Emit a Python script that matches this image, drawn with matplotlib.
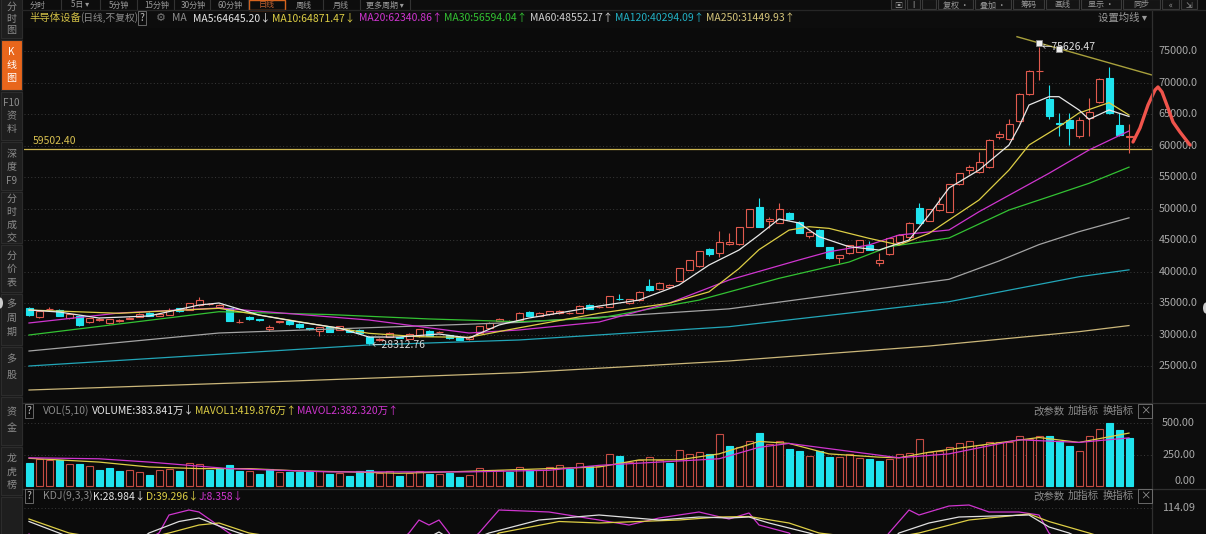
import numpy as np
import matplotlib.pyplot as plt
from matplotlib.patches import Rectangle, Ellipse
from matplotlib.lines import Line2D

plt.rcParams['font.family'] = ['Noto Sans CJK SC', 'DejaVu Sans']

# ---------------- data ----------------
opens = [34240, 32860, 34000, 33920, 32600, 32970, 31970, 32300, 31810, 32150,
         32550, 32860, 33450, 32970, 33130, 34200, 33920, 34700, 34870, 34400,
         34190, 32000, 32860, 32440, 30900, 31950, 32100, 31700, 31000, 30630,
         31160, 30790, 30800, 30800, 29680, 29100, 29680, 29600, 29360, 29790,
         30600, 30400, 29890, 29680, 29260, 30320, 31020, 32220, 32150, 32330,
         33650, 32970, 33260, 33400, 33400, 33490, 34700, 34400, 34440, 35700,
         34990, 35500, 37720, 37200, 37500, 38570, 40270, 40900, 43550, 42920,
         44450, 44400, 47140, 50320, 48000, 47780, 49370, 47940, 45670, 46620,
         43870, 42130, 42920, 43170, 44230, 41330, 42810, 44760, 45560, 50060,
         48100, 49790, 49520, 53920, 56140, 55870, 56570, 61430, 61020, 63970,
         68210, 71800, 67370, 63600, 64080, 61540, 64350, 66980, 70700, 63290,
         61330]
highs = [34450, 33950, 34350, 34050, 33400, 33050, 32700, 32600, 32550, 32500,
         32750, 33400, 33550, 33400, 34200, 34300, 35100, 36030, 35000, 34800,
         34300, 32500, 33000, 32500, 31600, 32200, 32200, 31800, 31100, 31200,
         31250, 31400, 30900, 30900, 29750, 29400, 30400, 29700, 30300, 30950,
         30700, 30600, 30000, 29750, 29750, 31450, 32000, 32650, 32300, 33600,
         33750, 33550, 33800, 33850, 33550, 34700, 34800, 34600, 36200, 36460,
         35700, 36900, 38790, 38300, 38000, 40600, 41900, 43300, 43700, 46510,
         46090, 47100, 49950, 51650, 48700, 50950, 49500, 48100, 46500, 46700,
         43950, 42700, 44300, 45100, 44800, 42920, 45400, 46000, 47900, 50900,
         50000, 51860, 54000, 55700, 57000, 59050, 61100, 62400, 64190, 68300,
         72000, 75626.47, 69630, 65170, 65170, 64500, 67520, 70700, 72540, 65170,
         63500]
lows = [33000, 32700, 33850, 32900, 32450, 31400, 31800, 32200, 31700, 32050,
        32500, 32800, 32900, 32900, 33050, 33650, 33850, 34600, 34750, 34300,
        32100, 31900, 32350, 32200, 30600, 31850, 31550, 31100, 30800, 29800,
        30400, 30700, 30400, 30250, 28312.76, 29000, 29600, 29400, 29300, 29700,
        29750, 30350, 29350, 29100, 29200, 30250, 30950, 32150, 32050, 32250,
        32900, 32900, 33200, 33350, 33350, 33400, 34000, 34300, 34400, 35500,
        34900, 35400, 37000, 37100, 37400, 38500, 40200, 40700, 42500, 42300,
        44300, 44300, 47100, 47100, 47000, 47700, 48200, 46100, 45300, 44000,
        42050, 41330, 42850, 43100, 43400, 40900, 42700, 44600, 45400, 47600,
        48000, 49700, 49400, 53800, 55500, 55700, 56400, 61000, 60900, 63800,
        68000, 70430, 64300, 61540, 60110, 61200, 61540, 66800, 65100, 61500,
        58800]
closes = [33130, 33810, 34080, 33020, 33300, 31540, 32600, 32450, 32440, 32400,
          32650, 33300, 32970, 33300, 33920, 33700, 35000, 35500, 34900, 34700,
          32220, 32060, 32440, 32280, 31270, 32100, 31620, 31160, 30900, 31160,
          30470, 31320, 30470, 30310, 28630, 29250, 30320, 29520, 30160, 30860,
          29840, 30470, 29430, 29160, 29680, 31380, 31900, 32540, 32200, 33490,
          32970, 33490, 33700, 33750, 33450, 34600, 34080, 34450, 36140, 35600,
          35620, 36820, 37090, 38250, 37900, 40540, 41860, 43280, 42810, 44760,
          44700, 47050, 49900, 47140, 48330, 49900, 48320, 46190, 46350, 44080,
          42130, 42650, 44230, 45020, 43440, 41860, 45300, 45830, 47680, 47700,
          49900, 50740, 53920, 55620, 56670, 57460, 60900, 61860, 63440, 68210,
          71900, 71900, 64710, 63440, 62760, 64080, 65400, 70540, 65240, 61700,
          61540]
prev_close0 = 34300

volumes = [182, 216, 203, 208, 177, 172, 156, 130, 143, 117, 125, 112, 86, 125,
           138, 120, 182, 177, 130, 143, 164, 117, 117, 94, 138, 112, 112, 112,
           112, 117, 94, 101, 83, 117, 125, 101, 117, 83, 101, 117, 94, 94, 101,
           73, 86, 146, 125, 125, 112, 151, 130, 130, 151, 164, 138, 182, 156,
           156, 255, 242, 190, 208, 229, 208, 182, 287, 255, 268, 255, 411, 320,
           307, 354, 424, 333, 359, 294, 276, 242, 281, 229, 234, 255, 224, 213,
           198, 216, 255, 263, 377, 268, 281, 307, 338, 354, 328, 346, 346, 346,
           398, 377, 398, 398, 359, 320, 276, 398, 451, 502, 443, 384]

# moving averages, sampled (bar index, value)
ma5_x = [0, 3, 7, 12, 17, 19, 23, 27, 31, 34, 37, 41, 44, 47, 50, 53, 57, 61, 65,
         68, 71, 73, 75, 77, 79, 82, 85, 88, 90, 92, 95, 98, 99, 100, 102, 103,
         105, 106, 108, 110]
ma5_y = [33920, 33600, 32650, 32970, 34710, 35030, 33120, 32010, 31060, 29630,
         29630, 30110, 29470, 31540, 32650, 33440, 34550, 35500, 37880, 41060,
         43440, 45830, 48370, 47730, 45560, 43970, 43440, 45030, 49000, 53290,
         56140, 60110, 63020, 66460, 67780, 67780, 65670, 64190, 65670, 64645]
ma10_x = [0, 9, 19, 24, 29, 34, 39, 44, 48, 57, 64, 68, 71, 73, 76, 78, 80, 84,
          87, 90, 95, 98, 100, 103, 105, 108, 110]
ma10_y = [33920, 33400, 34190, 32860, 31540, 30220, 29680, 29590, 30800, 33400,
          34990, 36800, 40500, 43500, 46600, 47140, 46880, 45300, 44240, 46090,
          51380, 56140, 60110, 63020, 65190, 66830, 64871]
ma20_x = [0, 9, 19, 34, 44, 49, 57, 64, 70, 77, 80, 84, 87, 92, 95, 102, 106, 110]
ma20_y = [31860, 33440, 34240, 32330, 30270, 30750, 32010, 35000, 38680, 41860,
          43170, 44240, 45830, 46620, 49520, 55620, 59320, 62341]
ma30_x = [0, 19, 30, 40, 49, 57, 67, 75, 82, 86, 92, 98, 102, 106, 110]
ma30_y = [29950, 33650, 33200, 32500, 32060, 32630, 35490, 38950, 41530, 43970,
          45350, 49790, 51900, 54030, 56594]
ma60_x = [0, 19, 49, 70, 92, 97, 101, 105, 110]
ma60_y = [27410, 30270, 31950, 34100, 38790, 41700, 44300, 46350, 48552]
ma120_x = [0, 34, 49, 70, 92, 105, 110]
ma120_y = [25030, 28370, 29160, 31270, 35240, 39200, 40294]
ma250_x = [0, 25, 49, 70, 90, 105, 110]
ma250_y = [21220, 22570, 23970, 25830, 28200, 30480, 31450]

mavol1_x = [0, 7, 12, 17, 22, 27, 32, 37, 42, 47, 52, 57, 61, 65, 69, 73, 76, 80,
            85, 87, 90, 96, 101, 105, 110]
mavol1_y = [220, 190, 151, 138, 138, 120, 112, 101, 112, 125, 138, 151, 207, 208,
            255, 354, 338, 255, 229, 224, 268, 333, 385, 346, 420]
mavol2_x = [0, 7, 12, 20, 30, 44, 52, 57, 69, 73, 76, 84, 87, 92, 99, 105, 110]
mavol2_y = [224, 216, 190, 138, 112, 112, 125, 164, 216, 307, 338, 255, 224, 255,
            367, 346, 382]

k_x = [0, 3, 6, 10, 12, 15, 17, 19, 21, 25, 35, 39, 41, 43, 46, 51, 57, 63, 67,
       70, 72, 74, 78, 82, 86, 87, 90, 93, 100, 102, 104, 106, 110]
k_y = [87, 64, 40, 35, 64, 87, 94, 78, 64, 40, 25, 45, 66, 40, 64, 90, 100, 90,
       96, 94, 96, 84, 64, 40, 45, 64, 84, 96, 100, 76, 64, 45, 29]
d_x = [0, 4, 10, 14, 17, 19, 22, 30, 45, 47, 53, 57, 65, 69, 72, 76, 79, 85, 89,
       94, 100, 102, 106, 110]
d_y = [92, 64, 45, 64, 80, 84, 64, 40, 40, 64, 87, 84, 90, 96, 97, 84, 64, 50, 64,
       90, 102, 87, 64, 39]
j_x = [0, 2, 8, 13, 14, 16, 17, 20, 24, 35, 38, 39, 40, 41, 42, 43, 45, 47, 52,
       57, 60, 63, 67, 70, 72, 73, 76, 79, 84, 86, 88, 89, 92, 94, 96, 99, 101,
       102, 104, 110]
j_y = [62, 40, 10, 64, 100, 110, 106, 64, 20, 10, 64, 90, 80, 90, 64, 30, 64, 110,
       106, 90, 80, 94, 106, 92, 104, 80, 64, 10, 15, 64, 110, 100, 118, 120, 106,
       106, 100, 64, 30, 8]

support = 59502.40
trend_x = [98.8, 112.3]
trend_y = [77300, 71220]
handle_x = [101, 103]
handle_y = [76250, 75300]
stroke_x = [110.4, 111.1, 111.9, 112.6, 112.9, 113.3, 113.9, 114.4, 115.1, 116.1]
stroke_y = [60590, 62810, 66460, 68840, 69320, 68520, 65980, 63760, 62170, 60110]

main_ticks = [25000, 30000, 35000, 40000, 45000, 50000, 55000, 60000, 65000,
              70000, 75000]
vol_ticks = [500, 250]

# ---------------- drawing ----------------
W, H = 1206, 534
BG = '#0b0b0b'
RED = '#e05a4e'
VRED = '#c44c43'
CYAN = '#1fe3ee'
GRID = '#3a3a3a'
GRAY = '#8c8c8c'
FS = 7.5

fig = plt.figure(figsize=(W / 100, H / 100), dpi=100, facecolor='#0d0d0d')


def fx(px):
    return px / W


def fy(py):
    return 1 - py / H


def panel(x0, y0, x1, y1):
    ax = fig.add_axes([fx(x0), fy(y1), fx(x1) - fx(x0), fy(y0) - fy(y1)])
    ax.set_facecolor(BG)
    for s in ax.spines.values():
        s.set_visible(False)
    ax.tick_params(left=False, bottom=False, labelbottom=False, labelleft=False)
    ax.set_xlim(-0.5, 112.3)
    return ax


def label(x, y, s, color=GRAY, size=FS, **kw):
    fig.text(fx(x), fy(y), s, color=color, fontsize=size, va='center', ha='left', **kw)


idx = np.arange(len(closes))
o, hi, lo, c = map(np.array, (opens, highs, lows, closes))
up = c >= o
col = np.where(up, RED, CYAN)
prev = np.concatenate([[prev_close0], c[:-1]])
vup = c >= prev

# main price panel
ax = panel(24, 28, 1152, 402)
ax.set_ylim(19317, 78683)
for v in main_ticks:
    ax.axhline(v, color=GRID, lw=0.7, ls=(0, (1, 2.5)), zorder=1)
    ax.text(1.006, v, '%.1f' % v, transform=ax.get_yaxis_transform(),
            color='#a8a8a8', fontsize=7.8, va='center', ha='left')
ax.axhline(support, color='#cdb650', lw=0.9, zorder=2)
ax.text(8.4 / 1128, support + 500, '%.2f' % support, transform=ax.get_yaxis_transform(),
        color='#d8c050', fontsize=FS, va='bottom', ha='left')

ax.vlines(idx, lo, hi, colors=col, lw=0.8, zorder=3)
ax.bar(idx, np.maximum(np.abs(c - o), 40), bottom=np.minimum(o, c), width=0.7,
       color=np.where(up, BG, CYAN), edgecolor=col, lw=0.8, zorder=4)

for xs, ys, cc in [(ma250_x, ma250_y, '#cbb77a'), (ma120_x, ma120_y, '#22a6b8'),
                   (ma60_x, ma60_y, '#a4a4a4'), (ma30_x, ma30_y, '#33c233'),
                   (ma20_x, ma20_y, '#cf35cf'), (ma10_x, ma10_y, '#ddce45'),
                   (ma5_x, ma5_y, '#e8e8e8')]:
    ax.plot(xs, ys, color=cc, lw=0.9, zorder=5)

ax.plot(trend_x, trend_y, color='#a8a03c', lw=1.0, zorder=6)
ax.plot(handle_x, handle_y, ls='none', marker='s', ms=4, mfc='#f0f0f0', mec='#888888',
        mew=0.6, zorder=7)
ax.text(101.3, 75626.47, '←75626.47', color='#e0e0e0', fontsize=FS, va='center', zorder=8)
ax.text(34.3, 28312.76, '←28312.76', color='#d8d8d8', fontsize=FS, va='center', zorder=8)
ax.plot(stroke_x, stroke_y, color='#f0544c', lw=2.4, clip_on=False, zorder=20,
        solid_capstyle='round', solid_joinstyle='round')

# volume panel
av = panel(24, 404, 1152, 488)
av.set_ylim(-15.9, 651)
for v in vol_ticks:
    av.axhline(v, color=GRID, lw=0.7, ls=(0, (1, 2.5)), zorder=1)
av.bar(idx, volumes, width=0.7, color=np.where(vup, BG, CYAN),
       edgecolor=np.where(vup, VRED, CYAN), lw=0.8, zorder=3)
av.plot(mavol1_x, mavol1_y, color='#ddce45', lw=0.9, zorder=4)
av.plot(mavol2_x, mavol2_y, color='#cf35cf', lw=0.9, zorder=4)

# KDJ panel
ak = panel(24, 490, 1152, 534)
ak.set_ylim(62, 150)
ak.axhline(114.09, color=GRID, lw=0.7, ls=(0, (1, 2.5)), zorder=1)
ak.plot(j_x, j_y, color='#cf35cf', lw=0.9, zorder=3)
ak.plot(d_x, d_y, color='#ddce45', lw=0.9, zorder=3)
ak.plot(k_x, k_y, color='#e0e0e0', lw=0.9, zorder=3)

# right scale labels of the lower panels
for v, yy in [(500, 423), (250, 455), (0, 481)]:
    fig.text(fx(1195), fy(yy), '%.2f' % v, color='#a8a8a8', fontsize=7.8, va='center', ha='right')
fig.text(fx(1195), fy(508), '114.09', color='#a8a8a8', fontsize=7.8, va='center', ha='right')

# separators
for yy in (403, 489):
    fig.add_artist(Line2D([fx(22), 1], [fy(yy)] * 2, color='#303030', lw=0.9))
fig.add_artist(Line2D([fx(1152)] * 2, [fy(10), 0], color='#303030', lw=0.9))
fig.add_artist(Line2D([fx(22), 1], [fy(10)] * 2, color='#262626', lw=0.9))

# legend rows
box = dict(boxstyle='square,pad=0.15', fc='none', ec='#777777', lw=0.6)
label(29, 18, '半导体设备', '#cfbd45')
label(80, 18, '(日线,不复权)', size=7)
label(140, 18, '?', '#bbbbbb', bbox=box)
label(156, 18, '⚙', '#777777', size=8)
label(172, 18, 'MA')
for s, xx, cc in [('MA5:64645.20↓', 193, '#e6e6e6'), ('MA10:64871.47↓', 272, '#ddce45'),
                  ('MA20:62340.86↑', 359, '#cf35cf'), ('MA30:56594.04↑', 444, '#33c233'),
                  ('MA60:48552.17↑', 530, '#d0d0d0'), ('MA120:40294.09↑', 615, '#22b0c4'),
                  ('MA250:31449.93↑', 706, '#d4c47a')]:
    label(xx, 18, s, cc)
label(1098, 18, '设置均线 ▾', '#9a9a9a')

label(27, 411, '?', '#bbbbbb', bbox=box)
label(43, 411, 'VOL(5,10)')
label(92, 411, 'VOLUME:383.841万↓', '#e6e6e6')
label(195, 411, 'MAVOL1:419.876万↑', '#ddce45')
label(297, 411, 'MAVOL2:382.320万↑', '#cf35cf')
label(27, 496, '?', '#bbbbbb', bbox=box)
label(43, 496, 'KDJ(9,3,3)')
label(93, 496, 'K:28.984↓', '#e6e6e6')
label(146, 496, 'D:39.296↓', '#ddce45')
label(199, 496, 'J:8.358↓', '#cf35cf')
for yy in (411, 496):
    label(1033, yy, '改参数')
    label(1068, yy, '加指标')
    label(1103, yy, '换指标')
    label(1140, yy, '×', '#9a9a9a', bbox=box)

# top toolbar
for s, xx in [('分时', 38), ('5日 ▾', 80), ('5分钟', 119), ('15分钟', 157), ('30分钟', 193),
              ('60分钟', 230), ('日线', 267), ('周线', 304), ('月线', 341), ('更多周期 ▾', 385)]:
    fig.text(fx(xx), fy(5), s, color='#c06030' if s == '日线' else '#9a9a9a',
             fontsize=5.8, va='center', ha='center')
for xx in (61, 100, 137, 174, 210, 248, 323, 360, 410):
    fig.add_artist(Line2D([fx(xx)] * 2, [fy(0), fy(9)], color='#333333', lw=0.8))
fig.add_artist(Rectangle((fx(249), fy(9.5)), fx(36), 10 / H, fc='none', ec='#d8641e', lw=1.0))
for s, x0, x1 in [('▣', 891, 905), ('I', 907, 920), ('', 922, 936), ('复权 ·', 938, 973),
                  ('叠加 ·', 975, 1011), ('筹码', 1013, 1044), ('画线', 1046, 1079),
                  ('显示 ·', 1081, 1121), ('同步', 1123, 1160), ('«', 1162, 1179),
                  ('⇲', 1181, 1197)]:
    fig.add_artist(Rectangle((fx(x0), fy(9)), fx(x1 - x0), 10 / H, fc='#141414',
                             ec='#3a3a3a', lw=0.8))
    fig.text(fx((x0 + x1) / 2), fy(5), s, color='#9a9a9a', fontsize=5.8,
             va='center', ha='center')

# left sidebar tabs
fig.add_artist(Rectangle((0, 0), fx(23), 1, fc='#1b1b1b', ec='none'))
tabs = [('分时图', -6, 38, [7, 19, 30]), ('K线图', 40, 90, [52, 65, 78]),
        ('F10资料', 92, 140, [103, 116, 129]), ('深度F9', 142, 190, [154, 167, 181]),
        ('分时成交', 192, 243, [199, 212, 225, 238]), ('分价表', 245, 292, [256, 269, 282]),
        ('多周期', 294, 345, [304, 318, 332]), ('多股', 347, 395, [359, 375]),
        ('资金', 397, 445, [412, 428]), ('龙虎榜', 447, 495, [458, 472, 485]),
        ('', 497, 540, [])]
for name, y0, y1, ys in tabs:
    active = name == 'K线图'
    fig.add_artist(Rectangle((fx(1), fy(y1)), fx(21), (y1 - y0) / H,
                             fc='#e8661c' if active else '#1e1e1e', ec='#2c2c2c', lw=0.8))
    chars = ['F10', '资', '料'] if name == 'F10资料' else (
        ['深', '度', 'F9'] if name == '深度F9' else list(name))
    for ch, yy in zip(chars, ys):
        fig.text(fx(11.5), fy(yy), ch, color='#ffffff' if active else '#8c8c8c',
                 fontsize=7.2, va='center', ha='center')

fig.add_artist(Ellipse((0, fy(303)), 6 / W, 11 / H, fc='#cccccc', ec='none'))
fig.add_artist(Ellipse((1, fy(308)), 6 / W, 11 / H, fc='#cccccc', ec='none'))

fig.savefig('out.png', dpi=100, facecolor=fig.get_facecolor())
